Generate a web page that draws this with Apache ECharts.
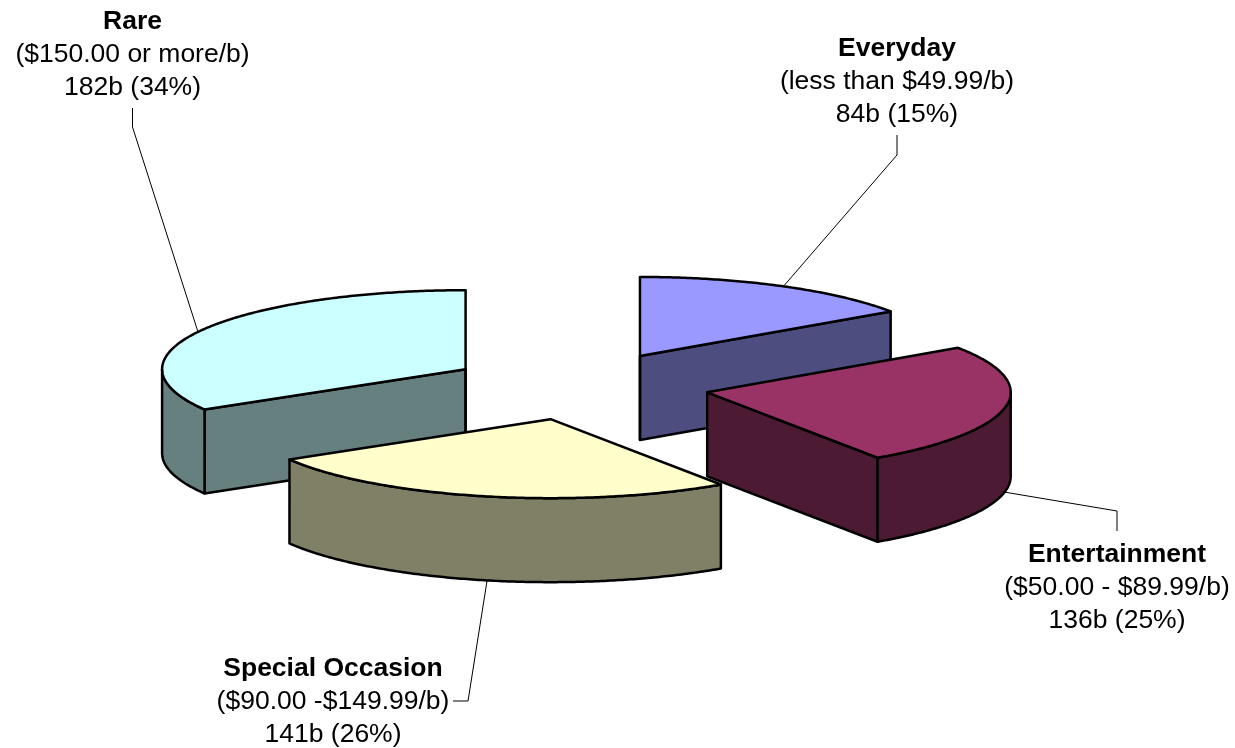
<!DOCTYPE html>
<html>
<head>
<meta charset="utf-8">
<style>html,body{margin:0;padding:0;background:#fff}#c{width:1235px;height:748px}</style>
<script src="https://cdn.jsdelivr.net/npm/echarts@6/dist/echarts.min.js"></script>
</head>
<body>
<div id="c"></div>
<script>
// Data
const categories = ['Everyday', 'Entertainment', 'Special Occasion', 'Rare'];
const priceRanges = ['(less than $49.99/b)', '($50.00 - $89.99/b)', '($90.00 -$149.99/b)', '($150.00 or more/b)'];
const values = [84, 136, 141, 182];
const shareLabels = ['84b (15%)', '136b (25%)', '141b (26%)', '182b (34%)'];

// Style and layout
const topColors = ['#9999FF', '#993366', '#FFFFCC', '#CCFFFF'];
const sideColors = ['#4D4D80', '#4D1A33', '#808066', '#668080'];
const labelCentres = [[897, 49], [1117, 555], [333, 669], [132.5, 22]];
const leaderPaths = [
  [[897, 135], [897, 155], [782, 288]],
  [[1004, 492], [1117, 511], [1117, 531]],
  [[487, 581], [468, 701], [453, 701]],
  [[132.5, 108], [132.5, 127], [198, 332]]
];
const pie = { cx: 579, cy: 386, rx: 303.5, ry: 79, depth: 84, explode: 0.43 };
const LINE_GAP = 33, FONT = 26.5;

const total = values.reduce((a, b) => a + b, 0);
const spans = [];
values.reduce((acc, v) => { spans.push([acc, acc + v]); return acc + v; }, 0);
const toAngle = v => v / total * Math.PI * 2;

// Slices painted back to front (by the height of their exploded apex)
const order = values.map((_, i) => i).sort((a, b) => {
  const m = i => toAngle((spans[i][0] + spans[i][1]) / 2);
  return Math.cos(m(b)) - Math.cos(m(a));
});

function renderSlice(params, api) {
  const i = api.value(0);
  const a0 = toAngle(api.value(1)), a1 = toAngle(api.value(2)), mid = (a0 + a1) / 2;
  const ax = pie.cx + pie.explode * pie.rx * Math.sin(mid);
  const ay = pie.cy - pie.explode * pie.ry * Math.cos(mid);
  const pt = (t, dz) => [ax + pie.rx * Math.sin(t), ay - pie.ry * Math.cos(t) + (dz || 0)];
  const arc = (s, e, dz) => {
    const n = Math.max(2, Math.ceil((e - s) / 0.01)), out = [];
    for (let k = 0; k <= n; k++) out.push(pt(s + (e - s) * k / n, dz));
    return out;
  };
  const lineStyle = { stroke: '#000', lineWidth: 2.5, lineJoin: 'round' };
  const children = [];
  const poly = (points, fill) => children.push({
    type: 'polygon', shape: { points },
    style: Object.assign({ fill }, lineStyle)
  });
  const side = sideColors[i];
  const d = pie.depth;
  const eps = 1e-6;
  // radial faces that turn toward the viewer
  if (Math.sin(a0) < -eps) poly([[ax, ay], pt(a0), pt(a0, d), [ax, ay + d]], side);
  if (Math.sin(a1) > eps) poly([[ax, ay], pt(a1), pt(a1, d), [ax, ay + d]], side);
  // flat face seen edge on at the 12 o'clock radial
  if (Math.abs(Math.sin(a0)) <= eps || Math.abs(Math.sin(a1)) <= eps) {
    children.push({ type: 'line', shape: { x1: ax, y1: ay, x2: ax, y2: ay + d }, style: lineStyle });
  }
  // outer wall: only the near half of the ellipse
  const s = Math.max(a0, Math.PI / 2), e = Math.min(a1, Math.PI * 1.5);
  if (e > s) poly(arc(s, e, 0).concat(arc(s, e, d).reverse()), side);
  // top face
  poly([[ax, ay]].concat(arc(a0, a1, 0)), topColors[i]);
  return { type: 'group', children };
}

function renderLabel(params, api) {
  const i = api.value(0);
  const [x, y] = labelCentres[i];
  const lines = [categories[i], priceRanges[i], shareLabels[i]];
  const children = lines.map((t, k) => ({
    type: 'text', x, y: y + k * LINE_GAP,
    style: {
      text: t, fill: '#000', align: 'center', verticalAlign: 'middle',
      fontFamily: '"Liberation Sans", Arial, sans-serif', fontSize: FONT,
      fontWeight: k === 0 ? 'bold' : 'normal'
    }
  }));
  children.push({
    type: 'polyline', shape: { points: leaderPaths[i] },
    style: { stroke: '#000', lineWidth: 1, fill: null }
  });
  return { type: 'group', children };
}

const chart = echarts.init(document.getElementById('c'), null, { renderer: 'canvas' });
chart.setOption({
  animation: false,
  backgroundColor: '#fff',
  series: [
    {
      type: 'custom', coordinateSystem: 'none', silent: true, z: 1,
      renderItem: renderLabel,
      data: values.map((_, i) => [i]),
      encode: { tooltip: [] }
    },
    {
      type: 'custom', coordinateSystem: 'none', silent: true, z: 2,
      renderItem: renderSlice,
      data: order.map(i => ({ name: categories[i], value: [i, spans[i][0], spans[i][1]] }))
    }
  ]
});
</script>
</body>
</html>
